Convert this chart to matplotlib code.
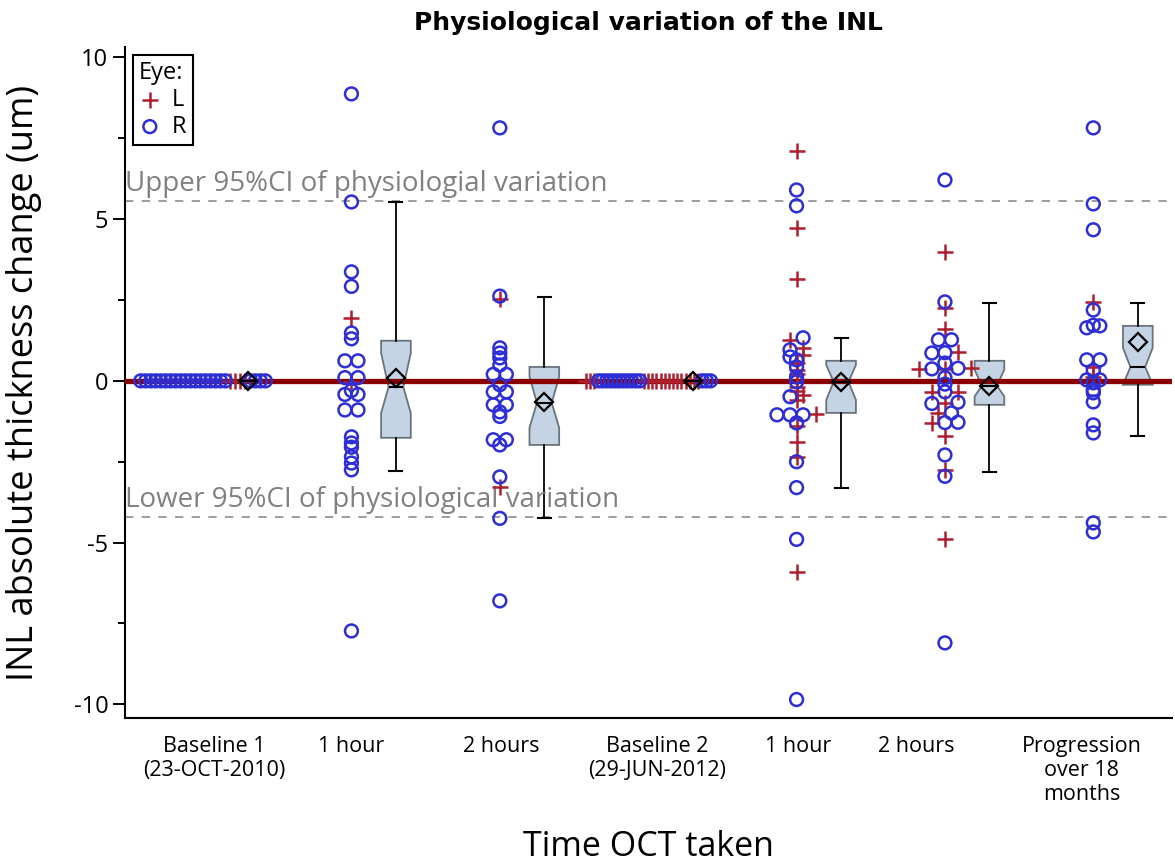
import numpy as np
import matplotlib
matplotlib.use("Agg")
import matplotlib.pyplot as plt
from matplotlib.ticker import MultipleLocator

plt.rcParams['font.family'] = ['Open Sans', 'DejaVu Sans']
plt.rcParams['axes.unicode_minus'] = False

# categories on the x axis
cat_labels = ["Baseline 1\n(23-OCT-2010)", "1 hour", "2 hours",
              "Baseline 2\n(29-JUN-2012)", "1 hour", "2 hours",
              "Progression\nover 18\nmonths"]

# baselines: every eye is 0 by definition, order of eyes as drawn
base1_eyes = "RRRRRRRRRRRRRRRRRRLLLLRRRR"
base2_eyes = "LLLRRRRRRRRRRRLLLLLLLLLLLLLLRRR"

# thickness changes (um) per group and eye
hour1a_R = [8.87, 5.53, 3.37, 2.92, 1.48, 1.30, 0.62, 0.62, 0.10, 0.10, -0.30,
            -0.42, -0.42, -0.90, -0.90, -1.73, -1.92, -2.05, -2.35, -2.54, -2.75, -7.73]
hour1a_L = [1.95, -0.05]
hour2a_R = [7.82, 2.62, 1.02, 0.86, 0.71, 0.49, 0.20, 0.20, -0.12, -0.34, -0.34,
            -0.74, -0.74, -0.96, -1.10, -1.82, -1.82, -1.98, -2.97, -4.25, -6.80]
hour2a_L = [2.53, -3.28]
hour1b_R = [5.90, 5.41, 1.33, 0.96, 0.74, 0.65, 0.43, 0.12, -0.03, -0.49,
            -1.05, -1.05, -1.05, -1.30, -2.50, -3.30, -4.90, -9.85]
hour1b_L = [7.11, 4.73, 3.15, 1.27, 1.02, 0.80, 0.55, 0.34, 0.20, -0.19, -0.30,
            -0.43, -0.59, -1.01, -1.40, -1.90, -2.35, -5.90]
hour2b_R = [6.21, 2.44, 1.27, 1.27, 0.86, 0.87, 0.55, 0.37, 0.39, 0.10, -0.10,
            -0.34, -0.66, -0.70, -0.99, -1.29, -1.28, -2.29, -2.95, -8.10]
hour2b_L = [3.99, 2.26, 1.61, 0.88, 0.36, 0.38, 0.40, -0.35, -0.33, -0.68,
            -1.00, -1.30, -1.70, -2.75, -4.90]
prog_R = [7.82, 5.47, 4.67, 2.19, 1.64, 1.70, 1.72, 0.65, 0.65, 0.32, 0.03, 0.03,
          -0.06, -0.28, -0.37, -0.65, -1.36, -1.61, -4.39, -4.67]
prog_L = [2.44, 0.43, 0.12]

# box summaries
box_med = [0, -0.19, -0.68, 0, -0.03, -0.15, 0.43]
box_q1 = [0, -1.76, -1.98, 0, -0.99, -0.74, -0.12]
box_q3 = [0, 1.24, 0.43, 0, 0.62, 0.62, 1.70]
box_lo = [0, -2.78, -4.25, 0, -3.30, -2.81, -1.70]
box_hi = [0, 5.53, 2.60, 0, 1.33, 2.41, 2.41]
box_mean = [0, 0.09, -0.65, 0, -0.03, -0.17, 1.20]
box_cilo = [0, -1.00, -1.45, 0, -0.59, -0.48, -0.12]
box_cihi = [0, 0.86, 0.13, 0, 0.49, 0.34, 1.02]

upper_ci = 5.56
lower_ci = -4.2

# layout
label_pos = [1.074, 2.0, 3.01, 4.06, 5.01, 5.81, 6.92]
box_shift = 0.3


def spread(vals, step=0.088, tol=0.08, width=0.84):
    # SAS-like jitter: near-identical values are spread sideways
    vals = np.asarray(vals, float)
    order = np.argsort(vals, kind='stable')
    offs = np.zeros(len(vals))
    i = 0
    n = len(vals)
    while i < n:
        j = i
        while j + 1 < n and vals[order[j + 1]] - vals[order[i]] < tol:
            j += 1
        k = j - i + 1
        s = step if k == 1 else min(step, width / (k - 1))
        for m in range(k):
            offs[order[i + m]] = (m - (k - 1) / 2) * s
        i = j + 1
    return offs


groups = []
for eyes in [base1_eyes]:
    groups.append(([0.0] * len(eyes), list(eyes)))
for R, L in [(hour1a_R, hour1a_L), (hour2a_R, hour2a_L)]:
    groups.append((R + L, ['R'] * len(R) + ['L'] * len(L)))
groups.append(([0.0] * len(base2_eyes), list(base2_eyes)))
for R, L in [(hour1b_R, hour1b_L), (hour2b_R, hour2b_L), (prog_R, prog_L)]:
    groups.append((R + L, ['R'] * len(R) + ['L'] * len(L)))

fig = plt.figure(figsize=(11.75, 8.67), dpi=100)
ax = fig.add_axes([0.1064, 0.1719, 0.891, 0.7739])

red = '#B01E2E'
blue = '#2E2ED6'

cats = np.arange(1, 8)
for c, (vals, eyes) in zip(cats, groups):
    vals = np.array(vals)
    eyes = np.array(eyes)
    x = c + spread(vals)
    mL = eyes == 'L'
    mR = eyes == 'R'
    ax.scatter(x[mL], vals[mL], marker='+', s=120, color=red, linewidths=1.8, zorder=4)
    ax.scatter(x[mR], vals[mR], marker='o', s=85, facecolors='none',
               edgecolors=blue, linewidths=1.8, zorder=4)

stats = []
for i in range(7):
    stats.append(dict(med=box_med[i], q1=box_q1[i], q3=box_q3[i],
                      whislo=box_lo[i], whishi=box_hi[i], mean=box_mean[i],
                      cilo=box_cilo[i], cihi=box_cihi[i], fliers=[]))
ax.bxp(stats, positions=cats + box_shift, widths=0.2, capwidths=0.088,
       shownotches=True, showmeans=True, showfliers=False, patch_artist=True,
       manage_ticks=False, zorder=2,
       boxprops=dict(facecolor='#C4D4E4', edgecolor='#69737C', linewidth=1.3),
       whiskerprops=dict(color='black', linewidth=1.3),
       capprops=dict(color='black', linewidth=1.5),
       medianprops=dict(color='black', linewidth=1.5, zorder=5),
       meanprops=dict(marker='D', markerfacecolor='none', markeredgecolor='black',
                      markersize=9.5, markeredgewidth=1.6, zorder=6))

ax.axhline(0, color='#8B0000', linewidth=3.8, zorder=3)
ax.axhline(upper_ci, color='#8C8C8C', linewidth=1.2, linestyle=(0, (5, 5)), zorder=1)
ax.axhline(lower_ci, color='#8C8C8C', linewidth=1.2, linestyle=(0, (5, 5)), zorder=1)

ax.set_xlim(0.474, 7.53)
ax.set_ylim(-10.42, 10.32)
ax.text(0.476, upper_ci + 0.1, "Upper 95%CI of physiologial variation", color='#808080',
        fontsize=20, ha='left', va='bottom')
ax.text(0.476, lower_ci + 0.1, "Lower 95%CI of physiological variation", color='#808080',
        fontsize=20, ha='left', va='bottom')

ax.set_xticks(label_pos)
ax.set_xticklabels(cat_labels, fontsize=15.5)
ax.tick_params(axis='x', length=0, pad=13)
ax.yaxis.set_major_locator(MultipleLocator(5))
ax.yaxis.set_minor_locator(MultipleLocator(2.5))
ax.tick_params(axis='y', which='major', length=9, width=1.4, labelsize=17, pad=3)
ax.tick_params(axis='y', which='minor', length=5, width=1.4)

for s in ['top', 'right']:
    ax.spines[s].set_visible(False)
for s in ['left', 'bottom']:
    ax.spines[s].set_linewidth(1.5)

ax.set_ylabel("INL absolute thickness change (um)", fontsize=26)
ax.yaxis.set_label_coords(-0.079, 0.5)
ax.set_xlabel("Time OCT taken", fontsize=24.5, va='baseline')
ax.xaxis.set_label_coords(0.5, -0.206)
ax.set_title("Physiological variation of the INL", fontsize=18, fontweight='bold',
             family='DejaVu Sans', pad=12)

hL = ax.scatter([], [], marker='+', s=120, color=red, linewidths=1.8)
hR = ax.scatter([], [], marker='o', s=85, facecolors='none', edgecolors=blue, linewidths=1.8)
leg = ax.legend([hL, hR], ['L', 'R'], title='Eye:', loc='upper left', fontsize=17,
                title_fontsize=17, alignment='left', frameon=True, fancybox=False,
                edgecolor='black', framealpha=1, borderaxespad=0.35, borderpad=0.25,
                handlelength=0.9, handletextpad=0.5, labelspacing=0.12)
leg.get_frame().set_linewidth(1.5)

fig.savefig("out.png", dpi=100)
